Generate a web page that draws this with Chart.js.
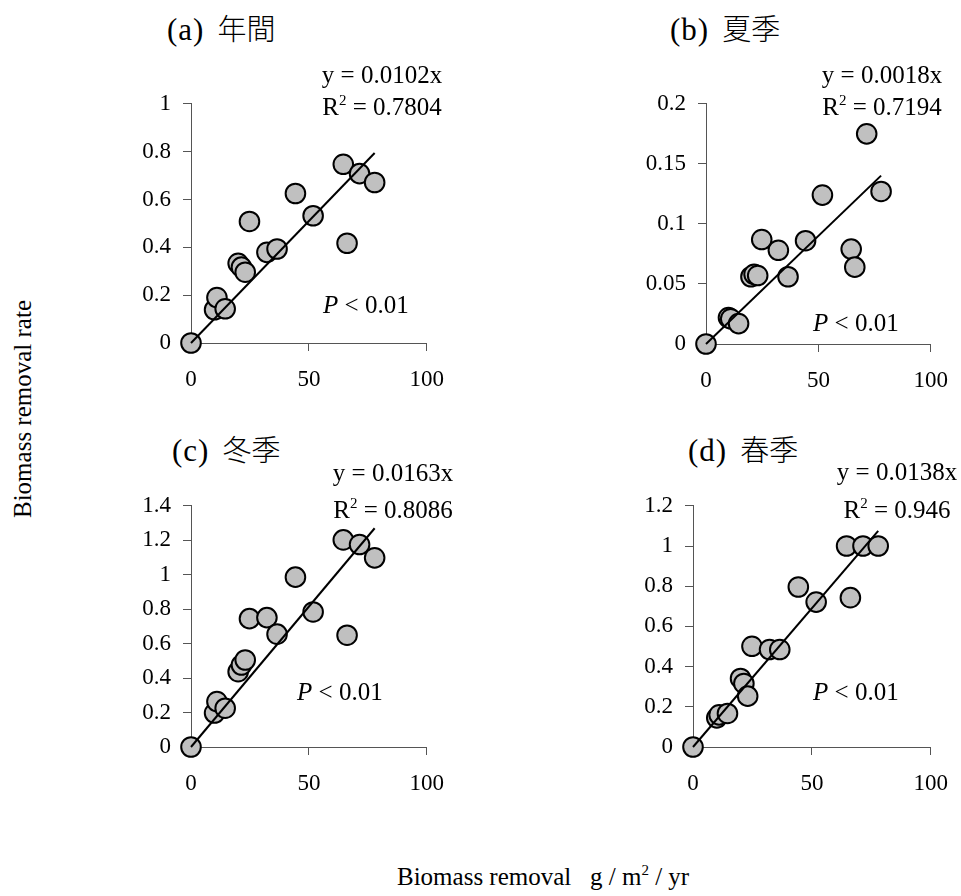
<!DOCTYPE html>
<html>
<head>
<meta charset="utf-8">
<script src="https://cdn.jsdelivr.net/npm/chart.js@4"></script>
<style>
  body { margin: 0; background: #fff; }
  #page { position: relative; width: 961px; height: 896px; overflow: hidden; font-family: "Liberation Serif", "Times New Roman", serif; color: #000; }
  canvas { position: absolute; }
  .title { position: absolute; font-size: 29px; line-height: 36px; white-space: pre; }
  .title .lab { font-size: 31px; letter-spacing: 1px; margin-right: 13px; }
  .title .jp { font-family: "Noto Sans CJK JP", sans-serif; font-weight: 300; }
  .eq { position: absolute; width: 200px; text-align: center; font-size: 25px; line-height: 30px; white-space: pre; }
  .eq sup { font-size: 15px; vertical-align: 10px; line-height: 0; }
  .pval { position: absolute; font-size: 25px; line-height: 30px; white-space: pre; }
  .axt { position: absolute; font-size: 25px; line-height: 30px; white-space: pre; }
</style>
</head>
<body>
<div id="page">
  <canvas id="ca"></canvas>
  <canvas id="cb"></canvas>
  <canvas id="cc"></canvas>
  <canvas id="cd"></canvas>

  <div class="title" style="left:167px; top:9px;"><span class="lab">(a)</span><span class="jp">年間</span></div>
  <div class="title" style="left:670px; top:9px;"><span class="lab">(b)</span><span class="jp">夏季</span></div>
  <div class="title" style="left:172px; top:430px;"><span class="lab">(c)</span><span class="jp">冬季</span></div>
  <div class="title" style="left:688px; top:430px;"><span class="lab">(d)</span><span class="jp">春季</span></div>

  <div class="eq" style="left:282px; top:60px;">y = 0.0102x</div>
  <div class="eq" style="left:282px; top:92px;">R<sup>2</sup> = 0.7804</div>
  <div class="eq" style="left:782px; top:60px;">y = 0.0018x</div>
  <div class="eq" style="left:782px; top:92px;">R<sup>2</sup> = 0.7194</div>
  <div class="eq" style="left:293px; top:458px;">y = 0.0163x</div>
  <div class="eq" style="left:293px; top:495px;">R<sup>2</sup> = 0.8086</div>
  <div class="eq" style="left:797px; top:457px;">y = 0.0138x</div>
  <div class="eq" style="left:797px; top:495px;">R<sup>2</sup> = 0.946</div>

  <div class="pval" style="left:323px; top:290px;"><i>P</i> &lt; 0.01</div>
  <div class="pval" style="left:813px; top:308px;"><i>P</i> &lt; 0.01</div>
  <div class="pval" style="left:297px; top:677px;"><i>P</i> &lt; 0.01</div>
  <div class="pval" style="left:813px; top:677px;"><i>P</i> &lt; 0.01</div>

  <div class="axt" style="left:-97px; top:394px; width:240px; text-align:center; transform:rotate(-90deg);">Biomass removal rate</div>
  <div class="axt" style="left:397px; top:862px;">Biomass removal   g / m<sup style="font-size:15px; vertical-align:10px; line-height:0;">2</sup> / yr</div>
</div>

<script>
// biomass removal (g/m2/yr) - same sites in every panel
const removal = [0, 10, 11, 14.5, 20, 21.4, 23, 24.8, 32.2, 36.5, 44.3, 51.8, 64.6, 66.2, 71.5, 77.9];

// removal rate per season
const rateYear   = [0, 0.139, 0.19, 0.143, 0.333, 0.317, 0.296, 0.508, 0.379, 0.393, 0.625, 0.532, 0.747, 0.417, 0.708, 0.671];
const rateSummer = [0, 0.022, 0.021, 0.017, 0.056, 0.058, 0.057, 0.087, 0.078, 0.056, 0.086, 0.124, 0.079, 0.064, 0.175, 0.127];
const rateWinter = [0, 0.197, 0.264, 0.225, 0.437, 0.476, 0.505, 0.745, 0.751, 0.655, 0.986, 0.784, 1.202, 0.649, 1.175, 1.098];
const rateSpring = [0, 0.145, 0.16, 0.167, 0.341, 0.316, 0.253, 0.501, 0.485, 0.485, 0.796, 0.721, 1.0, 0.743, 1.0, 1.0];

// regression slopes (through origin)
const slopes = [0.0102, 0.0018, 0.0163, 0.0138];

// y axis ranges
const yMax  = [1, 0.2, 1.4, 1.2];
const yStep = [0.2, 0.05, 0.2, 0.2];

const xTicks = [0, 50, 100];

const serif = '"Liberation Serif", "Times New Roman", serif';
const axisColor = '#555';

// plot boxes on the page (left, top, right, bottom of the axes)
const boxes = [
    { id: 'ca', l: 191, t: 103, r: 434, b: 343 },
    { id: 'cb', l: 706, t: 103, r: 938, b: 344 },
    { id: 'cc', l: 191, t: 505, r: 434, b: 747 },
    { id: 'cd', l: 693, t: 505, r: 938, b: 747 }
];
const rates = [rateYear, rateSummer, rateWinter, rateSpring];

function makePanel(i) {
    const box = boxes[i];
    const canvas = document.getElementById(box.id);
    const padL = 10, axW = 80, padT = 25, padR = 25, axH = 60;
    const w = (box.r - box.l) + axW + padL + padR;
    const h = (box.b - box.t) + padT + axH;
    canvas.width = w;
    canvas.height = h;
    canvas.style.left = (box.l - axW - padL) + 'px';
    canvas.style.top = (box.t - padT) + 'px';

    const pts = removal.map((x, k) => ({ x: x, y: rates[i][k] }));
    const xEnd = Math.max(...removal);
    const fit = [{ x: 0, y: 0 }, { x: xEnd, y: slopes[i] * xEnd }];

    new Chart(canvas.getContext('2d'), {
        type: 'scatter',
        data: {
            datasets: [
                {
                    data: fit,
                    showLine: true,
                    borderColor: '#000',
                    borderWidth: 2,
                    pointRadius: 0,
                    clip: false,
                    order: 0
                },
                {
                    data: pts,
                    backgroundColor: '#c0c0c0',
                    borderColor: '#000',
                    borderWidth: 2,
                    pointRadius: 9.8,
                    clip: false,
                    order: 1
                }
            ]
        },
        options: {
            responsive: false,
            animation: false,
            events: [],
            layout: { padding: { top: padT, right: padR, left: padL, bottom: 0 } },
            plugins: { legend: { display: false }, tooltip: { enabled: false } },
            scales: {
                x: {
                    type: 'linear',
                    min: xTicks[0],
                    max: xTicks[xTicks.length - 1],
                    afterFit: s => { s.height = axH; },
                    afterBuildTicks: s => { s.ticks = xTicks.map(v => ({ value: v })); },
                    ticks: { color: '#000', font: { family: serif, size: 23 }, padding: 15, maxRotation: 0 },
                    grid: { drawOnChartArea: false, tickLength: 8, color: axisColor },
                    border: { color: axisColor, width: 1 }
                },
                y: {
                    min: 0,
                    max: yMax[i],
                    afterFit: s => { s.width = axW; },
                    ticks: {
                        stepSize: yStep[i],
                        color: '#000',
                        font: { family: serif, size: 23 },
                        padding: 12,
                        callback: v => String(+v.toFixed(3))
                    },
                    grid: { drawOnChartArea: false, tickLength: 8, color: axisColor },
                    border: { color: axisColor, width: 1 }
                }
            }
        }
    });
}

document.addEventListener('DOMContentLoaded', () => {
    for (let i = 0; i < boxes.length; i++) makePanel(i);
});
</script>
</body>
</html>
